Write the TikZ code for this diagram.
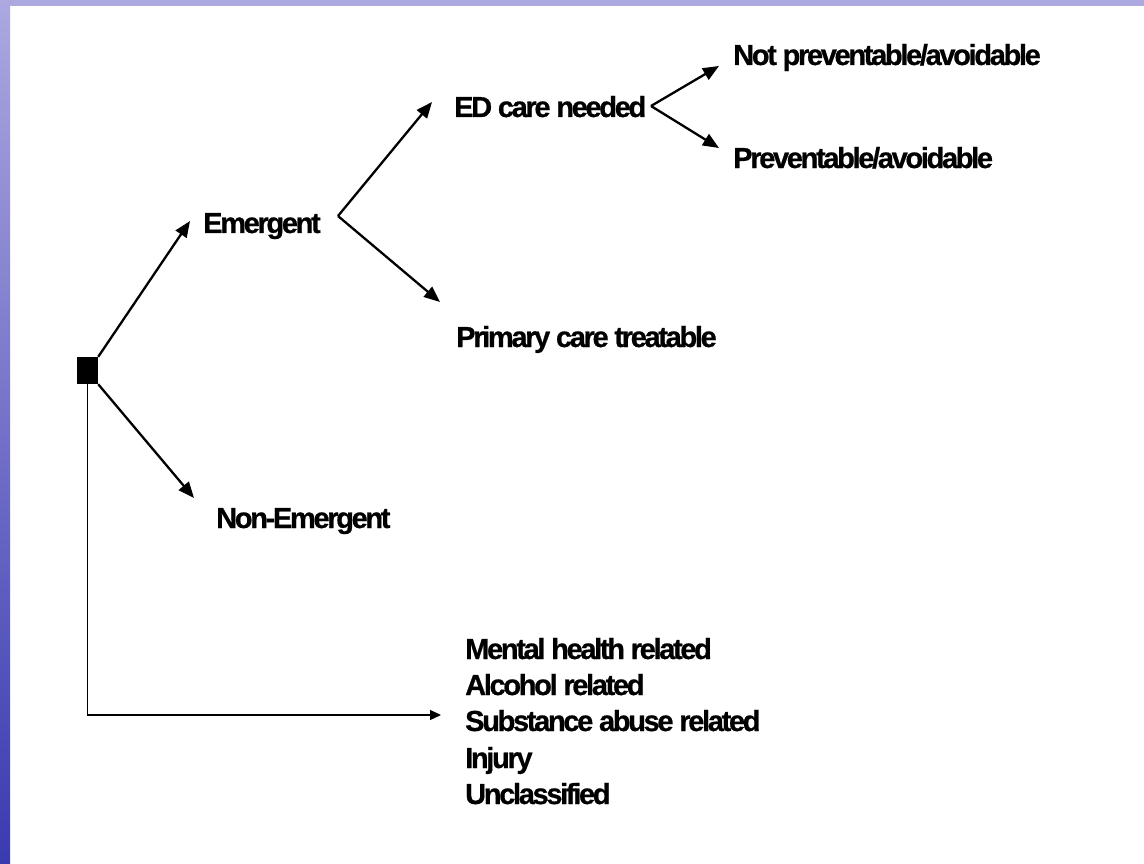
\documentclass[tikz,border=0pt]{standalone}
\usepackage{fontspec}
\setmainfont{Liberation Sans}[LetterSpace=-8, BoldFeatures={FakeBold=0.7}]
\usetikzlibrary{arrows.meta}
\definecolor{stripTop}{RGB}{172,168,224}
\definecolor{stripBot}{RGB}{58,58,176}
\begin{document}
\begin{tikzpicture}[x=1pt,y=-1pt,
  lbl/.style={font=\bfseries\fontsize{29}{31}\selectfont, anchor=base west, inner sep=0pt},
  arr/.style={line width=2.3pt, -{Triangle[length=16pt,width=13pt]}},
  thinarr/.style={line width=1.2pt, -{Triangle[length=11pt,width=10pt]}}]
\useasboundingbox (0,0) rectangle (1144,864);
\fill[white] (0,0) rectangle (1144,864);
\shade[top color=stripTop, bottom color=stripBot] (0,0) rectangle (10,864);
\fill[stripTop] (10,0) rectangle (1144,6);

% nodes
\node[lbl] (np) at (733,65) {Not preventable/avoidable};
\node[lbl] (ed) at (454,117) {ED care needed};
\node[lbl] (pv) at (733,168) {Preventable/avoidable};
\node[lbl] (em) at (203,233) {Emergent};
\node[lbl] (pc) at (456,347) {Primary care treatable};
\node[lbl] (ne) at (216,528) {Non-Emergent};
\node[lbl] (mh) at (465,659) {Mental health related};
\node[lbl] (al) at (465,695) {Alcohol related};
\node[lbl] (sa) at (465,731) {Substance abuse related};
\node[lbl] (in) at (465,768) {Injury};
\node[lbl] (un) at (465,804) {Unclassified};
\node[fill=black, minimum width=21pt, minimum height=27pt, inner sep=0pt] (sq) at (87.5,370.5) {};

% coordinates
\coordinate (tEm) at (190,221);
\coordinate (tNE) at (194,498);
\coordinate (v1) at (338,216);
\coordinate (tED) at (432,102);
\coordinate (tPC) at (440,302);
\coordinate (v2) at (651,106);
\coordinate (tNP) at (719,66);
\coordinate (tPV) at (719,148);
\coordinate (tSA) at (441,715);

% connectors
\draw[arr] (sq.north east) -- (tEm);
\draw[arr] (sq.south east) -- (tNE);
\draw[arr] (v1) -- (tED);
\draw[arr] (v1) -- (tPC);
\draw[arr] (v2) -- (tNP);
\draw[arr] (v2) -- (tPV);
\draw[thinarr] (sq.south) |- (tSA);
\end{tikzpicture}
\end{document}
